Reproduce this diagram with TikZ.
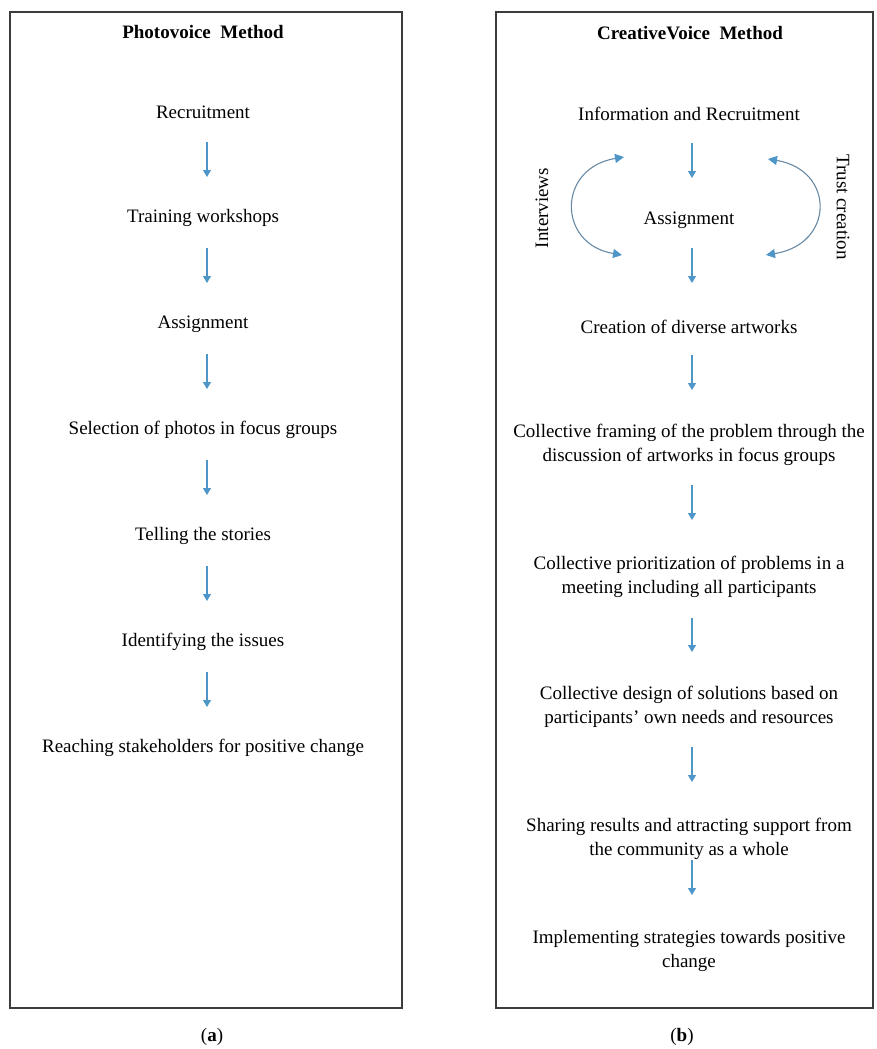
\documentclass[tikz,border=0pt]{standalone}
\usepackage{fontspec}
\setmainfont{Liberation Serif}
\usetikzlibrary{arrows.meta,calc}
\definecolor{arrblue}{RGB}{78,150,200}
\definecolor{arcgray}{RGB}{105,138,165}
\definecolor{boxgray}{RGB}{60,60,60}
\begin{document}
\begin{tikzpicture}[x=1pt,y=-1pt,
  lbl/.style={font=\fontsize{19}{24}\selectfont, align=center, inner sep=0pt},
  ttl/.style={font=\fontsize{19}{24}\selectfont\bfseries, inner sep=0pt},
  side/.style={font=\fontsize{19}{24}\selectfont, inner sep=0pt},
  varrow/.style={draw=arrblue, line width=1.2pt, -{Triangle[width=8pt,length=7pt]}},
  carrow/.style={draw=arcgray, line width=1.1pt,
     {Triangle[width=9pt,length=9pt,color=arrblue]}-{Triangle[width=9pt,length=9pt,color=arrblue]}},
  framebox/.style={draw=boxgray, line width=1.3pt}]
\useasboundingbox (0,0) rectangle (876,1049);
% frames
\draw[framebox] (10,12) rectangle (402,1008);
\draw[framebox] (496,12) rectangle (873,1008);
% left column
\node[ttl] (tl) at (203,32) {Photovoice\ \ Method};
\node[lbl] (l1) at (203,112) {Recruitment};
\node[lbl] (l2) at (203,218) {Training workshops};
\node[lbl] (l3) at (203,324) {Assignment};
\node[lbl] (l4) at (203,430) {Selection of photos in focus groups};
\node[lbl] (l5) at (203,536) {Telling the stories};
\node[lbl] (l6) at (203,642) {Identifying the issues};
\node[lbl] (l7) at (203,748) {Reaching stakeholders for positive change};
\foreach \a/\b in {l1/l2,l2/l3,l3/l4,l4/l5,l5/l6,l6/l7}
  \draw[varrow] ($(\a.center)+(4,30)$) -- ($(\b.center)+(4,-41)$);
% right column
\node[ttl] (tr) at (690,33) {CreativeVoice\ \ Method};
\node[lbl] (r1) at (689,114) {Information and Recruitment};
\node[lbl] (r2) at (689,220) {Assignment};
\node[lbl] (r3) at (689,327) {Creation of diverse artworks};
\node[lbl] (r4) at (689,445) {Collective framing of the problem through the\\discussion of artworks in focus groups};
\node[lbl] (r5) at (689,576.5) {Collective prioritization of problems in a\\meeting including all participants};
\node[lbl] (r6) at (689,706.5) {Collective design of solutions based on\\participants’ own needs and resources};
\node[lbl] (r7) at (689,838.5) {Sharing results and attracting support from\\the community as a whole};
\node[lbl] (r8) at (689,950.5) {Implementing strategies towards positive\\change};
\draw[varrow] ($(r1.center)+(3,29)$) -- ($(r2.center)+(3,-42)$);
\draw[varrow] ($(r2.center)+(3,28)$) -- ($(r3.center)+(3,-44)$);
\draw[varrow] ($(r3.center)+(3,28)$) -- ($(r4.center)+(3,-55)$);
\draw[varrow] ($(r4.center)+(3,40)$) -- ($(r5.center)+(3,-56.5)$);
\draw[varrow] ($(r5.center)+(3,41.5)$) -- ($(r6.center)+(3,-54.5)$);
\draw[varrow] ($(r6.center)+(3,40.5)$) -- ($(r7.center)+(3,-56.5)$);
\draw[varrow] ($(r7.center)+(3,21.5)$) -- ($(r8.center)+(3,-55.5)$);
% side loops
\coordinate (lt) at (624,157);
\coordinate (lb) at (622,255);
\coordinate (rt) at (768,159);
\coordinate (rb) at (766,255);
\draw[carrow] (lt) .. controls (557,168) and (557,244) .. (lb);
\draw[carrow] (rt) .. controls (835,170) and (835,244) .. (rb);
\node[side, rotate=90] (iv) at (542,208) {Interviews};
\node[side, rotate=-90] (tc) at (843,207) {Trust creation};
% captions
\node[lbl] (ca) at (212,1037) {(\textbf{a})};
\node[lbl] (cb) at (682,1037) {(\textbf{b})};
\end{tikzpicture}
\end{document}
